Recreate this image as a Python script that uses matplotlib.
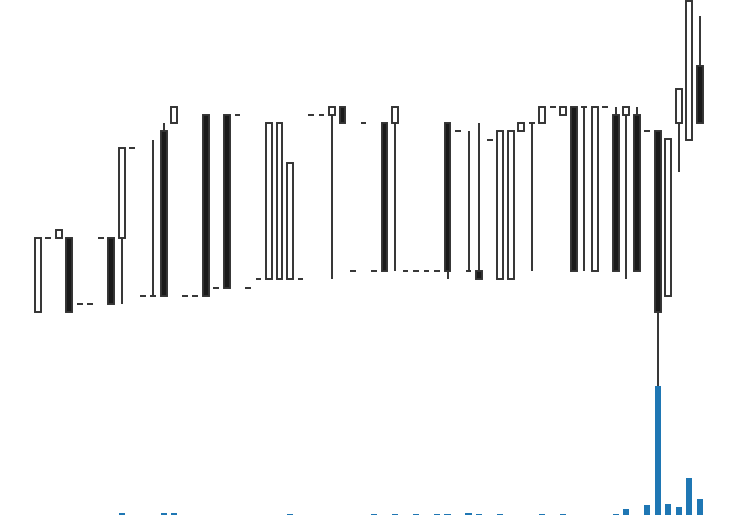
import numpy as np
import matplotlib
matplotlib.use('Agg')
import matplotlib.pyplot as plt

# OHLC (arbitrary price units)
opens = [20.00, 29.25, 29.25, 29.25, 21.00, 21.00, 29.25, 29.25, 29.25, 40.50,
         22.00, 22.00, 42.63, 43.63, 22.00, 22.00, 44.63, 23.00, 44.63, 44.63,
         23.00, 24.12, 24.12, 24.12, 24.12, 24.12, 44.63, 44.63, 44.63, 45.63,
         25.09, 43.63, 25.09, 43.63, 43.63, 25.09, 25.09, 25.09, 25.09, 43.63,
         42.63, 25.09, 25.09, 41.46, 24.12, 24.12, 42.63, 43.63, 43.63, 45.63,
         44.63, 45.63, 45.63, 25.09, 45.63, 44.63, 44.63, 44.63, 42.63, 42.63,
         22.00, 43.63, 41.46, 50.75]
closes = [29.25, 29.25, 30.25, 20.00, 21.00, 21.00, 29.25, 21.00, 40.50, 40.50,
          22.00, 22.00, 22.00, 45.63, 22.00, 22.00, 22.00, 23.00, 23.00, 44.63,
          23.00, 24.12, 43.63, 43.63, 38.55, 24.12, 44.63, 44.63, 45.63, 43.63,
          25.09, 43.63, 25.09, 25.09, 45.63, 25.09, 25.09, 25.09, 25.09, 25.09,
          42.63, 25.09, 24.12, 41.46, 42.63, 42.63, 43.63, 43.63, 45.63, 45.63,
          45.63, 25.09, 45.63, 45.63, 45.63, 25.09, 45.63, 25.09, 42.63, 20.00,
          41.55, 47.80, 58.84, 43.63]
highs = [29.25, 29.25, 30.25, 29.25, 21.00, 21.00, 29.25, 29.25, 40.50, 40.50,
         22.00, 41.46, 43.63, 45.63, 22.00, 22.00, 44.63, 23.00, 44.63, 44.63,
         23.00, 24.12, 43.63, 43.63, 38.55, 24.12, 44.63, 44.63, 45.63, 45.63,
         25.09, 43.63, 25.09, 43.63, 45.63, 25.09, 25.09, 25.09, 25.09, 43.63,
         42.63, 42.63, 43.63, 41.46, 42.63, 42.63, 43.63, 43.63, 45.63, 45.63,
         45.63, 45.63, 45.63, 45.63, 45.63, 45.63, 45.63, 45.63, 42.63, 42.63,
         41.55, 47.80, 58.84, 56.96]
lows = [20.00, 29.25, 29.25, 20.00, 21.00, 21.00, 29.25, 21.00, 21.00, 40.50,
        22.00, 22.00, 22.00, 43.63, 22.00, 22.00, 22.00, 23.00, 23.00, 44.63,
        23.00, 24.12, 24.12, 24.12, 24.12, 24.12, 44.63, 44.63, 24.12, 43.63,
        25.09, 43.63, 25.09, 25.09, 25.09, 25.09, 25.09, 25.09, 25.09, 24.12,
        42.63, 25.09, 24.12, 41.46, 24.12, 24.12, 42.63, 25.09, 43.63, 45.63,
        44.63, 25.09, 25.09, 25.09, 45.63, 25.09, 24.12, 25.09, 42.63, 6.50,
        22.00, 37.50, 41.46, 43.63]
volumes = [0, 0, 0, 0, 0, 0, 0, 0, 200, 0,
           0, 0, 200, 200, 0, 0, 0, 0, 0, 0,
           0, 0, 0, 0, 100, 0, 0, 0, 0, 0,
           0, 0, 100, 0, 100, 0, 100, 0, 100, 100,
           0, 200, 100, 0, 100, 0, 0, 0, 100, 0,
           100, 0, 0, 0, 0, 100, 600, 0, 1000, 12900,
           1100, 800, 3700, 1600]

o = np.array(opens)
c = np.array(closes)
h = np.array(highs)
l = np.array(lows)
v = np.array(volumes)
x = np.arange(len(o))

fig = plt.figure(figsize=(7.37, 5.15), dpi=100)
ax = fig.add_axes([0, 0, 1, 1])

ax.vlines(x, l, h, color='#333333', linewidth=1.4, zorder=1)
body_colors = ['white' if cc >= oo else '#1a1a1a' for oo, cc in zip(o, c)]
ax.bar(x, np.abs(c - o), width=0.55, bottom=np.minimum(o, c), color=body_colors,
       edgecolor='#333333', linewidth=1.4, zorder=2)
ax.set_xlim(-3.59, 66.54)
ax.set_ylim(-5.41, 58.96)
ax.axis('off')

# volume on a twin axis, bottom quarter
ax2 = ax.twinx()
ax2.bar(x, v, width=0.6, color='#1f77b4')
ax2.set_ylim(0, v.max() * 4)
ax2.axis('off')

fig.savefig('out.png', dpi=100)
